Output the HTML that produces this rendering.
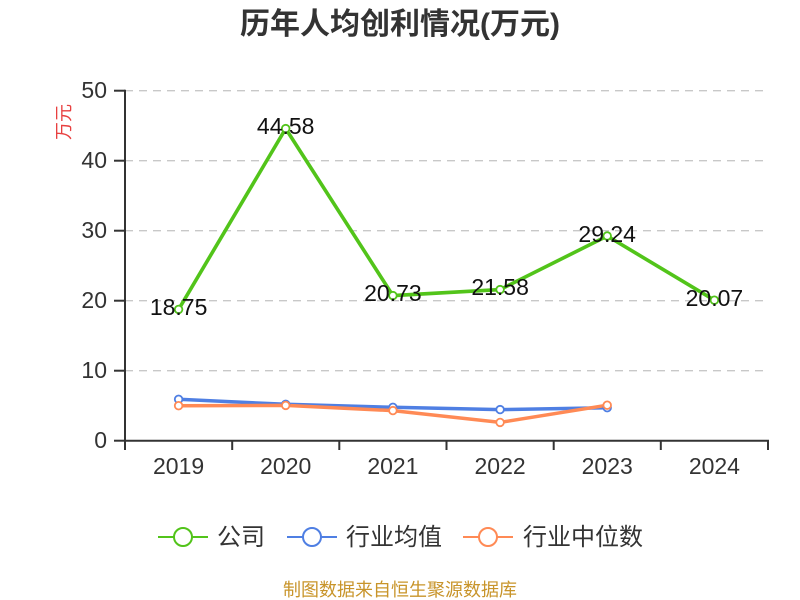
<!DOCTYPE html>
<html><head><meta charset="utf-8"><style>
html,body{margin:0;padding:0;background:#fff;}
svg{display:block;}
text{font-family:"Liberation Sans","Noto Sans CJK SC",sans-serif;}
</style></head><body>
<svg width="800" height="600" viewBox="0 0 800 600" xmlns="http://www.w3.org/2000/svg">
<text x="400" y="34" text-anchor="middle" font-size="30" font-weight="bold" fill="#333">历年人均创利情况(万元)</text>
<text transform="translate(70,122) rotate(-90)" text-anchor="middle" font-size="18" fill="#e84040">万元</text>
<g stroke="#c8c8c8" stroke-width="1.3" stroke-dasharray="8,6">
<line x1="125" y1="90.7" x2="768" y2="90.7"/>
<line x1="125" y1="160.7" x2="768" y2="160.7"/>
<line x1="125" y1="230.7" x2="768" y2="230.7"/>
<line x1="125" y1="300.7" x2="768" y2="300.7"/>
<line x1="125" y1="370.7" x2="768" y2="370.7"/>
</g>
<g stroke="#333" stroke-width="2">
<line x1="125" y1="89.7" x2="125" y2="441"/>
<line x1="114" y1="90.7" x2="125" y2="90.7"/>
<line x1="114" y1="160.7" x2="125" y2="160.7"/>
<line x1="114" y1="230.7" x2="125" y2="230.7"/>
<line x1="114" y1="300.7" x2="125" y2="300.7"/>
<line x1="114" y1="370.7" x2="125" y2="370.7"/>
<line x1="114" y1="440.7" x2="125" y2="440.7"/>
<line x1="124" y1="440.7" x2="769" y2="440.7"/>
<line x1="125" y1="440" x2="125" y2="450"/>
<line x1="232.2" y1="440" x2="232.2" y2="450"/>
<line x1="339.3" y1="440" x2="339.3" y2="450"/>
<line x1="446.5" y1="440" x2="446.5" y2="450"/>
<line x1="553.7" y1="440" x2="553.7" y2="450"/>
<line x1="660.8" y1="440" x2="660.8" y2="450"/>
<line x1="768" y1="440" x2="768" y2="450"/>
</g>
<g font-size="23" fill="#333" text-anchor="end">
<text x="107" y="98">50</text>
<text x="107" y="168">40</text>
<text x="107" y="238">30</text>
<text x="107" y="308">20</text>
<text x="107" y="378">10</text>
<text x="107" y="448">0</text>
</g>
<g font-size="23" fill="#333" text-anchor="middle">
<text x="178.6" y="474">2019</text>
<text x="285.7" y="474">2020</text>
<text x="392.9" y="474">2021</text>
<text x="500.1" y="474">2022</text>
<text x="607.2" y="474">2023</text>
<text x="714.4" y="474">2024</text>
</g>
<!-- blue -->
<polyline fill="none" stroke="#4f7fe3" stroke-width="3.5" points="178.6,399.3 285.7,404.3 392.9,407.3 500.1,409.6 607.2,407.7"/>
<!-- orange -->
<polyline fill="none" stroke="#ff8a55" stroke-width="3.5" points="178.6,405.7 285.7,405.4 392.9,410.6 500.1,422.4 607.2,405.2"/>
<g fill="#fff" stroke="#4f7fe3" stroke-width="1.8">
<circle cx="178.6" cy="399.3" r="3.8"/><circle cx="285.7" cy="404.3" r="3.8"/><circle cx="392.9" cy="407.3" r="3.8"/><circle cx="500.1" cy="409.6" r="3.8"/><circle cx="607.2" cy="407.7" r="3.8"/>
</g>
<g fill="#fff" stroke="#ff8a55" stroke-width="1.8">
<circle cx="178.6" cy="405.7" r="3.8"/><circle cx="285.7" cy="405.4" r="3.8"/><circle cx="392.9" cy="410.6" r="3.8"/><circle cx="500.1" cy="422.4" r="3.8"/><circle cx="607.2" cy="405.2" r="3.8"/>
</g>
<!-- green -->
<polyline fill="none" stroke="#52c41a" stroke-width="3.6" points="178.6,309.4 285.7,128.6 392.9,295.6 500.1,289.6 607.2,236 714.4,300.2"/>
<g fill="#fff" stroke="#52c41a" stroke-width="1.8">
<circle cx="178.6" cy="309.4" r="3.8"/><circle cx="285.7" cy="128.6" r="3.8"/><circle cx="392.9" cy="295.6" r="3.8"/><circle cx="500.1" cy="289.6" r="3.8"/><circle cx="607.2" cy="236" r="3.8"/><circle cx="714.4" cy="300.2" r="3.8"/>
</g>
<g font-size="23" fill="#111" text-anchor="middle">
<text x="178.6" y="315">18.75</text>
<text x="285.7" y="134">44.58</text>
<text x="392.9" y="301">20.73</text>
<text x="500.1" y="295">21.58</text>
<text x="607.2" y="242">29.24</text>
<text x="714.4" y="306">20.07</text>
</g>
<!-- legend -->
<line x1="158" y1="537" x2="208" y2="537" stroke="#52c41a" stroke-width="2"/>
<circle cx="183" cy="537" r="9" fill="#fff" stroke="#52c41a" stroke-width="2"/>
<text x="217" y="545" font-size="24" fill="#333">公司</text>
<line x1="287" y1="537" x2="337" y2="537" stroke="#4f7fe3" stroke-width="2"/>
<circle cx="312" cy="537" r="9" fill="#fff" stroke="#4f7fe3" stroke-width="2"/>
<text x="346" y="545" font-size="24" fill="#333">行业均值</text>
<line x1="463" y1="537" x2="513" y2="537" stroke="#ff8a55" stroke-width="2"/>
<circle cx="488" cy="537" r="9" fill="#fff" stroke="#ff8a55" stroke-width="2"/>
<text x="523" y="545" font-size="24" fill="#333">行业中位数</text>
<text x="400" y="596" text-anchor="middle" font-size="18" fill="#c8942a">制图数据来自恒生聚源数据库</text>
</svg>
</body></html>
